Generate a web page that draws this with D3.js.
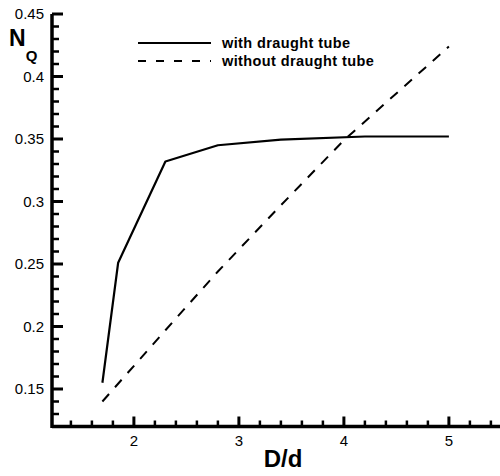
<!DOCTYPE html>
<html>
<head>
<meta charset="utf-8">
<script src="https://cdn.jsdelivr.net/npm/d3@7"></script>
<style>
  body { margin: 0; background: #fff; }
  svg { display: block; }
  svg text { font-family: "Liberation Sans", Arial, sans-serif; }
</style>
</head>
<body>
<div id="chart"></div>
<script>
// data
const seriesNames = ["with draught tube", "without draught tube"];
const withTubeX = [1.7, 1.85, 2.3, 2.8, 3.4, 4.2, 5.0];
const withTubeY = [0.155, 0.251, 0.332, 0.345, 0.3495, 0.352, 0.352];
const withoutTubeX = [1.7, 2.3, 2.8, 3.4, 4.0, 5.0];
const withoutTubeY = [0.14, 0.197, 0.244, 0.297, 0.349, 0.424];
const xMajorTicks = [2, 3, 4, 5];
const xMinorTicks = [1.4, 1.6, 1.8, 2.2, 2.4, 2.6, 2.8, 3.2, 3.4, 3.6, 3.8, 4.2, 4.4, 4.6, 4.8, 5.2, 5.4];
const yMajorTicks = [0.15, 0.2, 0.25, 0.3, 0.35, 0.4, 0.45];
const yMinorTicks = [0.13, 0.14, 0.16, 0.17, 0.18, 0.19, 0.21, 0.22, 0.23, 0.24, 0.26, 0.27, 0.28, 0.29,
                     0.31, 0.32, 0.33, 0.34, 0.36, 0.37, 0.38, 0.39, 0.41, 0.42, 0.43, 0.44];

const W = 500, H = 476;

const svg = d3.select("#chart")
    .append("svg")
    .attr("width", W)
    .attr("height", H);

const x = d3.scaleLinear()
    .domain([1.22, 5.5])
    .range([52, 501.4]);

const y = d3.scaleLinear()
    .domain([0.12, 0.45])
    .range([426.5, 14]);

const x0 = x(1.22), y0 = y(0.12);

// --- ticks drawn by hand so they point inward ---
const ticks = svg.append("g").attr("stroke", "#000");

ticks.selectAll(".x-minor")
    .data(xMinorTicks)
    .enter().append("line")
    .attr("x1", d => x(d)).attr("x2", d => x(d))
    .attr("y1", y0).attr("y2", y0 - 6)
    .attr("stroke-width", 2.5);

ticks.selectAll(".x-major")
    .data(xMajorTicks)
    .enter().append("line")
    .attr("x1", d => x(d)).attr("x2", d => x(d))
    .attr("y1", y0).attr("y2", y0 - 10)
    .attr("stroke-width", 3);

ticks.selectAll(".y-minor")
    .data(yMinorTicks)
    .enter().append("line")
    .attr("x1", x0).attr("x2", x0 + 7)
    .attr("y1", d => y(d)).attr("y2", d => y(d))
    .attr("stroke-width", 2.5);

ticks.selectAll(".y-major")
    .data(yMajorTicks)
    .enter().append("line")
    .attr("x1", x0).attr("x2", x0 + 11)
    .attr("y1", d => y(d)).attr("y2", d => y(d))
    .attr("stroke-width", 3);

// axis lines
svg.append("line")
    .attr("x1", x0).attr("x2", W)
    .attr("y1", y0).attr("y2", y0)
    .attr("stroke", "#000").attr("stroke-width", 3.5);
svg.append("line")
    .attr("x1", x0).attr("x2", x0)
    .attr("y1", y0 + 1.5).attr("y2", y(0.45))
    .attr("stroke", "#000").attr("stroke-width", 3.5);

// tick labels
svg.selectAll(".x-label")
    .data(xMajorTicks)
    .enter().append("text")
    .attr("x", d => x(d))
    .attr("y", y0 + 19)
    .attr("text-anchor", "middle")
    .attr("font-size", "15px")
    .text(d => d3.format("d")(d));

svg.selectAll(".y-label")
    .data(yMajorTicks)
    .enter().append("text")
    .attr("x", x0 - 8)
    .attr("y", d => y(d))
    .attr("dy", "0.35em")
    .attr("text-anchor", "end")
    .attr("font-size", "15px")
    .text(d => String(+d.toFixed(2)));

// --- axis titles ---
svg.append("text")
    .attr("x", 283)
    .attr("y", 467)
    .attr("text-anchor", "middle")
    .attr("font-size", "24px")
    .attr("font-weight", "bold")
    .text("D/d");

const yTitle = svg.append("text")
    .attr("x", 9)
    .attr("y", 46)
    .attr("font-size", "23px")
    .attr("font-weight", "bold");
yTitle.append("tspan").text("N");
yTitle.append("tspan")
    .attr("dy", 15)
    .attr("font-size", "15px")
    .text("Q");

// --- lines ---
const line = d3.line()
    .x(d => x(d[0]))
    .y(d => y(d[1]));

svg.append("path")
    .datum(withTubeX.map((v, i) => [v, withTubeY[i]]))
    .attr("d", line)
    .attr("fill", "none")
    .attr("stroke", "#000")
    .attr("stroke-width", 2.2)
    .attr("stroke-linejoin", "round");

svg.append("path")
    .datum(withoutTubeX.map((v, i) => [v, withoutTubeY[i]]))
    .attr("d", line)
    .attr("fill", "none")
    .attr("stroke", "#000")
    .attr("stroke-width", 2)
    .attr("stroke-dasharray", "10,9");

// --- legend ---
const legend = svg.append("g");
seriesNames.forEach((name, i) => {
    const ly = 43 + i * 18;
    legend.append("line")
        .attr("x1", 138)
        .attr("x2", 211)
        .attr("y1", ly)
        .attr("y2", ly)
        .attr("stroke", "#000")
        .attr("stroke-width", 2)
        .attr("stroke-dasharray", i === 1 ? "8,10" : null);
    legend.append("text")
        .attr("x", 222)
        .attr("y", ly + 5)
        .attr("font-size", "14.5px")
        .attr("font-weight", "bold")
        .attr("letter-spacing", "0.4px")
        .text(name);
});
</script>
</body>
</html>
